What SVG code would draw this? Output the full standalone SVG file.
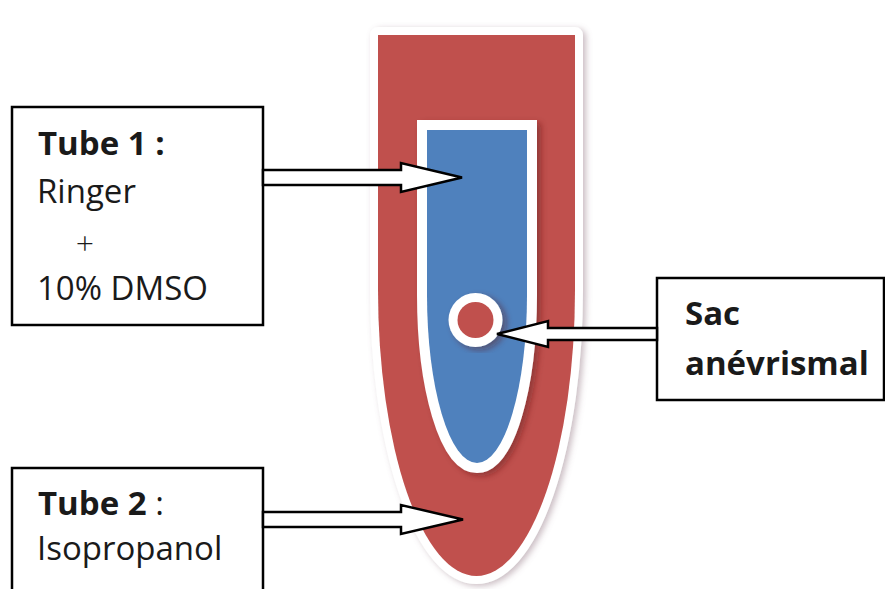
<svg xmlns="http://www.w3.org/2000/svg" width="885" height="589" viewBox="0 0 885 589">
<style>
.box{fill:#fff;stroke:#000;stroke-width:2.5}
.arrow{fill:#fff;stroke:#000;stroke-width:2.5;stroke-linejoin:miter}
.t{font-family:"Open Sans","Liberation Sans",sans-serif;font-size:33px;fill:#1a1a1a}
.b{font-weight:bold}
</style>
<defs>
<filter id="halo" x="-20%" y="-10%" width="140%" height="120%">
<feDropShadow dx="3" dy="2" stdDeviation="3" flood-color="#8a6a78" flood-opacity="0.45"/>
</filter>
<filter id="inner" x="-30%" y="-10%" width="160%" height="120%">
<feDropShadow dx="4" dy="3" stdDeviation="3" flood-color="#5a1e1c" flood-opacity="0.45"/>
</filter>
</defs>
<rect width="885" height="589" fill="#fff"/>
<g id="tube">
<path d="M378,35 H575 V290 A98.5,286 0 0 1 378,290 Z" fill="#fff" stroke="#fff" stroke-width="16" stroke-linejoin="round" filter="url(#halo)"/>
<path d="M378,35 H575 V290 A98.5,286 0 0 1 378,290 Z" fill="#C0504D"/>
<path d="M427,130 H527 V295 A50,168 0 0 1 427,295 Z" fill="#fff" stroke="#fff" stroke-width="20" stroke-linejoin="miter" filter="url(#inner)"/>
<path d="M427,130 H527 V295 A50,168 0 0 1 427,295 Z" fill="#4F81BD"/>
<circle cx="475.5" cy="320" r="27" fill="#fff" filter="url(#inner)"/>
<circle cx="475.5" cy="320" r="18" fill="#C0504D"/>
</g>
<g id="tube1">
<rect class="box" x="12" y="107" width="251" height="218"/>
<text class="t b" x="38" y="155">Tube 1 :</text>
<text class="t" x="37" y="203">Ringer</text>
<text class="t" x="85" y="255" text-anchor="middle" style="font-weight:300;font-size:32px">+</text>
<text class="t" x="37" y="300">10% DMSO</text>
</g>
<g id="tube2">
<rect class="box" x="12" y="468" width="251" height="140"/>
<text class="t" x="38" y="515"><tspan class="b">Tube 2</tspan> :</text>
<text class="t" x="37" y="560">Isopropanol</text>
</g>
<g id="sac">
<rect class="box" x="657" y="278" width="227" height="122"/>
<text class="t b" x="685" y="325">Sac</text>
<text class="t b" x="685" y="375">anévrismal</text>
</g>
<g id="connectors">
<polygon class="arrow" points="263,170 401,170 401,163 462,177.5 401,192 401,185 263,185"/>
<polygon class="arrow" points="263,512 401,512 401,505 463,519.5 401,534 401,527 263,527"/>
<polygon class="arrow" points="657,328 548,328 548,321 497,334 548,347 548,340 657,340"/>
</g>
</svg>
